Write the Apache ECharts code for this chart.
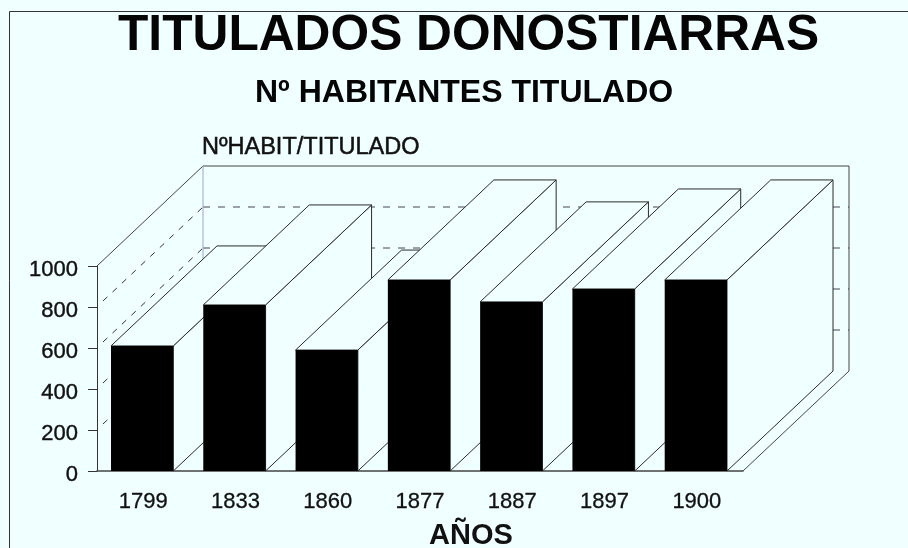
<!DOCTYPE html>
<html>
<head>
<meta charset="utf-8">
<style>
  html, body { margin: 0; padding: 0; background: #f0ffff; }
  #box { width: 908px; height: 548px; }
</style>
<script src="https://cdn.jsdelivr.net/npm/echarts@6/dist/echarts.min.js"></script>
</head>
<body>
<div id="box"></div>
<script>
// datos
var years = ["1799", "1833", "1860", "1877", "1887", "1897", "1900"];
var habitantes = [610, 810, 590, 932, 825, 888, 932];
var yTicks = [0, 200, 400, 600, 800, 1000];

var myChart = echarts.init(document.getElementById("box"));

var BG = "#f0ffff";
var INK = "#2a2a2a";
var FONT = '"Liberation Sans", Arial, sans-serif';
// desplazamiento de la perspectiva
var DX = 106;
var DY = -100;

function line(x1, y1, x2, y2, color, width, dash) {
  return {
    type: "line",
    shape: { x1: x1, y1: y1, x2: x2, y2: y2 },
    style: { stroke: color, lineWidth: width, lineDash: dash || null, fill: null },
  };
}

function renderWalls(params, api) {
  var cs = params.coordSys;
  var left = cs.x;
  var right = cs.x + cs.width;
  var top = cs.y;
  var bottom = cs.y + cs.height;
  var children = [];
  yTicks.forEach(function (v) {
    if (v === 0 || v === 1000) return;
    var y = api.coord([0, v])[1];
    // rayas de la pared izquierda y del fondo
    children.push(line(left + 6, y - 6, left + DX, y + DY, "#333", 1, [6, 7]));
    children.push(line(left + DX, y + DY, right + DX, y + DY, "#445", 1, [7, 8]));
  });
  children.push(line(left, top, left + DX, top + DY, "#444", 1));
  children.push(line(left + DX, top + DY, right + DX, top + DY, "#444", 1));
  children.push(line(left + DX, top + DY, left + DX, bottom + DY, "#9aa6c8", 1));
  children.push(line(right + DX, top + DY, right + DX, bottom + DY, "#444", 1));
  children.push(line(right, bottom, right + DX, bottom + DY, "#444", 1));
  return { type: "group", children: children };
}

function renderBar(params, api) {
  var base = api.coord([api.value(0), 0]);
  var head = api.coord([api.value(0), api.value(1)]);
  var w = api.size([1, 0])[0] * 0.675;
  var x0 = base[0] - w / 2 - 1;
  var x1 = x0 + w;
  var y0 = base[1];
  var y1 = head[1];
  var faceStyle = { fill: BG, stroke: INK, lineWidth: 1, lineJoin: "round" };
  return {
    type: "group",
    children: [
      {
        type: "polygon",
        shape: { points: [[x1, y0], [x1 + DX, y0 + DY], [x1 + DX, y1 + DY], [x1, y1]] },
        style: faceStyle,
      },
      {
        type: "polygon",
        shape: { points: [[x0, y1], [x1, y1], [x1 + DX, y1 + DY], [x0 + DX, y1 + DY]] },
        style: faceStyle,
      },
      {
        type: "rect",
        shape: { x: x0, y: y1, width: w, height: y0 - y1 },
        style: { fill: "#000" },
      },
    ],
  };
}

var option = {
  backgroundColor: BG,
  animation: false,
  title: [
    {
      text: "TITULADOS DONOSTIARRAS",
      left: 113,
      top: 6,
      textStyle: { fontFamily: FONT, fontSize: 49.7, fontWeight: "bold", color: "#050505" },
    },
    {
      text: "Nº HABITANTES TITULADO",
      left: 250,
      top: 72,
      textStyle: { fontFamily: FONT, fontSize: 32, fontWeight: "bold", color: "#050505" },
    },
    {
      text: "NºHABIT/TITULADO",
      left: 197,
      top: 131,
      textStyle: {
        fontFamily: FONT,
        fontSize: 23.5,
        fontWeight: "normal",
        color: "#111",
        textBorderColor: "#111",
        textBorderWidth: 0.5,
      },
    },
    {
      text: "AÑOS",
      left: 424,
      top: 516,
      textStyle: { fontFamily: FONT, fontSize: 29, fontWeight: "bold", color: "#111" },
    },
  ],
  grid: { left: 97, right: 165, top: 266, bottom: 77 },
  xAxis: {
    type: "category",
    data: years,
    axisTick: { alignWithLabel: true, length: 8, lineStyle: { color: "#333" } },
    axisLine: { lineStyle: { color: "#444", width: 1.5 } },
    axisLabel: {
      margin: 20,
      fontFamily: FONT,
      fontSize: 22,
      color: "#111",
      textBorderColor: "#111",
      textBorderWidth: 0.3,
    },
    splitLine: { show: false },
  },
  yAxis: {
    type: "value",
    min: 0,
    max: 1000,
    interval: 200,
    axisTick: { show: true, length: 9, lineStyle: { color: "#333" } },
    axisLine: { show: true, lineStyle: { color: "#333", width: 1 } },
    axisLabel: {
      margin: 19,
      fontFamily: FONT,
      fontSize: 22,
      color: "#111",
      verticalAlign: "top",
      lineHeight: 8,
      textBorderColor: "#111",
      textBorderWidth: 0.4,
      formatter: function (v) {
        return String(v);
      },
    },
    splitLine: { show: false },
  },
  graphic: [
    {
      type: "rect",
      silent: true,
      z: -1,
      shape: { x: 9.5, y: 11.5, width: 960, height: 600 },
      style: { fill: null, stroke: "#333", lineWidth: 1 },
    },
  ],
  series: [
    {
      type: "custom",
      silent: true,
      clip: false,
      renderItem: renderWalls,
      data: [[0, 0]],
      z: 1,
    },
    {
      type: "custom",
      silent: true,
      clip: false,
      renderItem: renderBar,
      encode: { x: 0, y: 1 },
      data: years.map(function (y, i) {
        return [i, habitantes[i]];
      }),
      z: 2,
    },
  ],
};

myChart.setOption(option);
</script>
</body>
</html>
